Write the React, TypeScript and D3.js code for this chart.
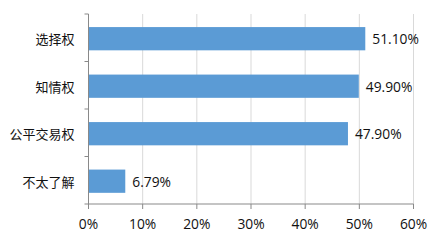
import React from "react";
import * as d3 from "d3";

const categories = ["选择权", "知情权", "公平交易权", "不太了解"];
const values = [51.1, 49.9, 47.9, 6.79];
const xTicks = [0, 10, 20, 30, 40, 50, 60];

const W = 442, H = 240;
const left = 88.5, right = 413.5, top = 14, bottom = 204;

export default function App() {
  const x = d3.scaleLinear().domain([0, 60]).range([left, right]);
  const y = d3.scaleBand<string>().domain(categories).range([top, bottom]).paddingInner(0.5).paddingOuter(0.25);
  const step = y.step();
  const font = "'Open Sans', 'Noto Sans CJK SC', sans-serif";
  return (
    <svg width={W} height={H} style={{ position: "absolute", left: 0, top: 0, background: "#fff" }} fontFamily={font}>
      {xTicks.slice(1).map(t => (
        <line key={"g" + t} x1={x(t)} x2={x(t)} y1={top} y2={bottom} stroke="#d9d9d9" strokeWidth={1} />
      ))}
      {categories.map((c, i) => (
        <g key={c}>
          <rect x={x(0)} y={y(c)! + 1.2} width={x(values[i]) - x(0)} height={y.bandwidth() - 0.5} fill="#5b9bd5" />
          <text x={x(values[i]) + 7} y={y(c)! + 1 + y.bandwidth() / 2} dominantBaseline="central" fontSize={13.8} fill="#111">
            {values[i].toFixed(2) + "%"}
          </text>
          <text x={74.5} y={y(c)! + 1 + y.bandwidth() / 2} dominantBaseline="central" textAnchor="end" fontSize={13} fill="#111" fontFamily="'Noto Sans CJK SC', sans-serif">
            {c}
          </text>
        </g>
      ))}
      <line x1={left} x2={left} y1={top} y2={bottom} stroke="#898989" />
      {d3.range(categories.length + 1).map(i => (
        <line key={"yt" + i} x1={left - 4} x2={left} y1={top + i * step} y2={top + i * step} stroke="#898989" />
      ))}
      <line x1={left} x2={right} y1={bottom} y2={bottom} stroke="#898989" />
      {xTicks.map(t => (
        <g key={"xt" + t}>
          <line x1={x(t)} x2={x(t)} y1={bottom} y2={bottom + 5} stroke="#898989" />
          <text x={x(t)} y={223} textAnchor="middle" dominantBaseline="central" fontSize={13.8} fill="#111">{t + "%"}</text>
        </g>
      ))}
    </svg>
  );
}
